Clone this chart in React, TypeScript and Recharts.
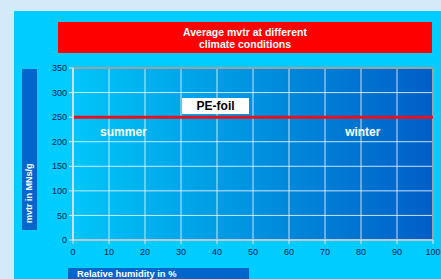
import {
  LineChart, Line, XAxis, YAxis, CartesianGrid, ReferenceLine, ReferenceArea, ReferenceDot,
} from 'recharts';

const humidity = [0, 100];
const peFoil = [250, 250];
const xTicks = [0, 10, 20, 30, 40, 50, 60, 70, 80, 90, 100];
const yTicks = [0, 50, 100, 150, 200, 250, 300, 350];
const seasons = [
  { name: 'summer', x: 14, y: 220 },
  { name: 'winter', x: 80.5, y: 220 },
];

const data = humidity.map((h, i) => ({ rh: h, pe: peFoil[i] }));

const font = '"Liberation Sans", Arial, sans-serif';
const tickStyle = { fontSize: 9, fill: '#0a2250', fontFamily: font };

export default function App() {
  return (
    <div
      style={{
        position: 'absolute', left: 0, top: 0, width: 441, height: 279,
        background: '#d4eaf8', overflow: 'hidden', fontFamily: font,
      }}
    >
      <div style={{ position: 'absolute', left: 14, top: 11, width: 427, height: 268, background: '#00ccff' }} />
      <div
        style={{
          position: 'absolute', left: 58, top: 22, width: 374, height: 31, background: '#ff0000',
          color: '#fff', fontWeight: 'bold', fontSize: 10.5, lineHeight: '12px', textAlign: 'center',
          display: 'flex', flexDirection: 'column', justifyContent: 'center',
        }}
      >
        <div>Average mvtr at different</div>
        <div>climate conditions</div>
      </div>
      <div style={{ position: 'absolute', left: 22, top: 69, width: 15, height: 161, background: '#0066cc' }} />
      <div
        style={{
          position: 'absolute', left: -51, top: 142, width: 161, height: 15,
          transform: 'rotate(-90deg)', color: '#fff', fontWeight: 'bold', fontSize: 9,
          lineHeight: '15px', paddingLeft: 7, boxSizing: 'border-box', whiteSpace: 'nowrap',
        }}
      >
        mvtr in MNs/g
      </div>
      <div
        style={{
          position: 'absolute', left: 68, top: 268, width: 181, height: 20, background: '#0066cc',
          color: '#fff', fontWeight: 'bold', fontSize: 9.4, lineHeight: '11px', paddingLeft: 9,
          boxSizing: 'border-box', whiteSpace: 'nowrap',
        }}
      >
        Relative humidity in %
      </div>
      <div style={{ position: 'absolute', left: 0, top: 0 }}>
        <LineChart width={441} height={279} data={data} margin={{ top: 68, right: 8, bottom: 0, left: 0 }}>
          <defs>
            <linearGradient id="plotBg" x1="0" y1="0" x2="1" y2="0">
              <stop offset="0%" stopColor="#00c6f8" />
              <stop offset="50%" stopColor="#0092e0" />
              <stop offset="100%" stopColor="#005ec6" />
            </linearGradient>
          </defs>
          <CartesianGrid fill="url(#plotBg)" fillOpacity={1} stroke="#e8f4ff" strokeOpacity={0.85} />
          <XAxis
            type="number"
            dataKey="rh"
            domain={[0, 100]}
            ticks={xTicks}
            height={39}
            tick={tickStyle}
            tickSize={4}
            tickMargin={5}
            axisLine={{ stroke: '#b8c8d8', strokeWidth: 2 }}
            tickLine={{ stroke: '#e0ecf8' }}
          />
          <YAxis
            type="number"
            domain={[0, 350]}
            ticks={yTicks}
            width={73}
            tick={tickStyle}
            tickSize={4}
            tickMargin={2}
            axisLine={{ stroke: '#d0dce8', strokeWidth: 2 }}
            tickLine={{ stroke: '#e0ecf8' }}
          />
          <ReferenceLine y={350} stroke="#a0a0a0" strokeWidth={2} />
          <ReferenceLine x={100} stroke="#a0a0a0" strokeWidth={2} />
          <ReferenceArea
            x1={30.3}
            x2={48.9}
            y1={256.5}
            y2={289}
            fill="#ffffff"
            fillOpacity={1}
            stroke="none"
            label={{ value: 'PE-foil', fill: '#000', fontSize: 12, fontWeight: 'bold', fontFamily: font }}
          />
          {seasons.map((s) => (
            <ReferenceDot
              key={s.name}
              x={s.x}
              y={s.y}
              r={0}
              stroke="none"
              label={{ value: s.name, fill: '#fff', fontSize: 12, fontWeight: 'bold', fontFamily: font }}
            />
          ))}
          <Line
            dataKey="pe"
            stroke="#e8101c"
            strokeWidth={3}
            dot={false}
            isAnimationActive={false}
          />
        </LineChart>
      </div>
    </div>
  );
}
